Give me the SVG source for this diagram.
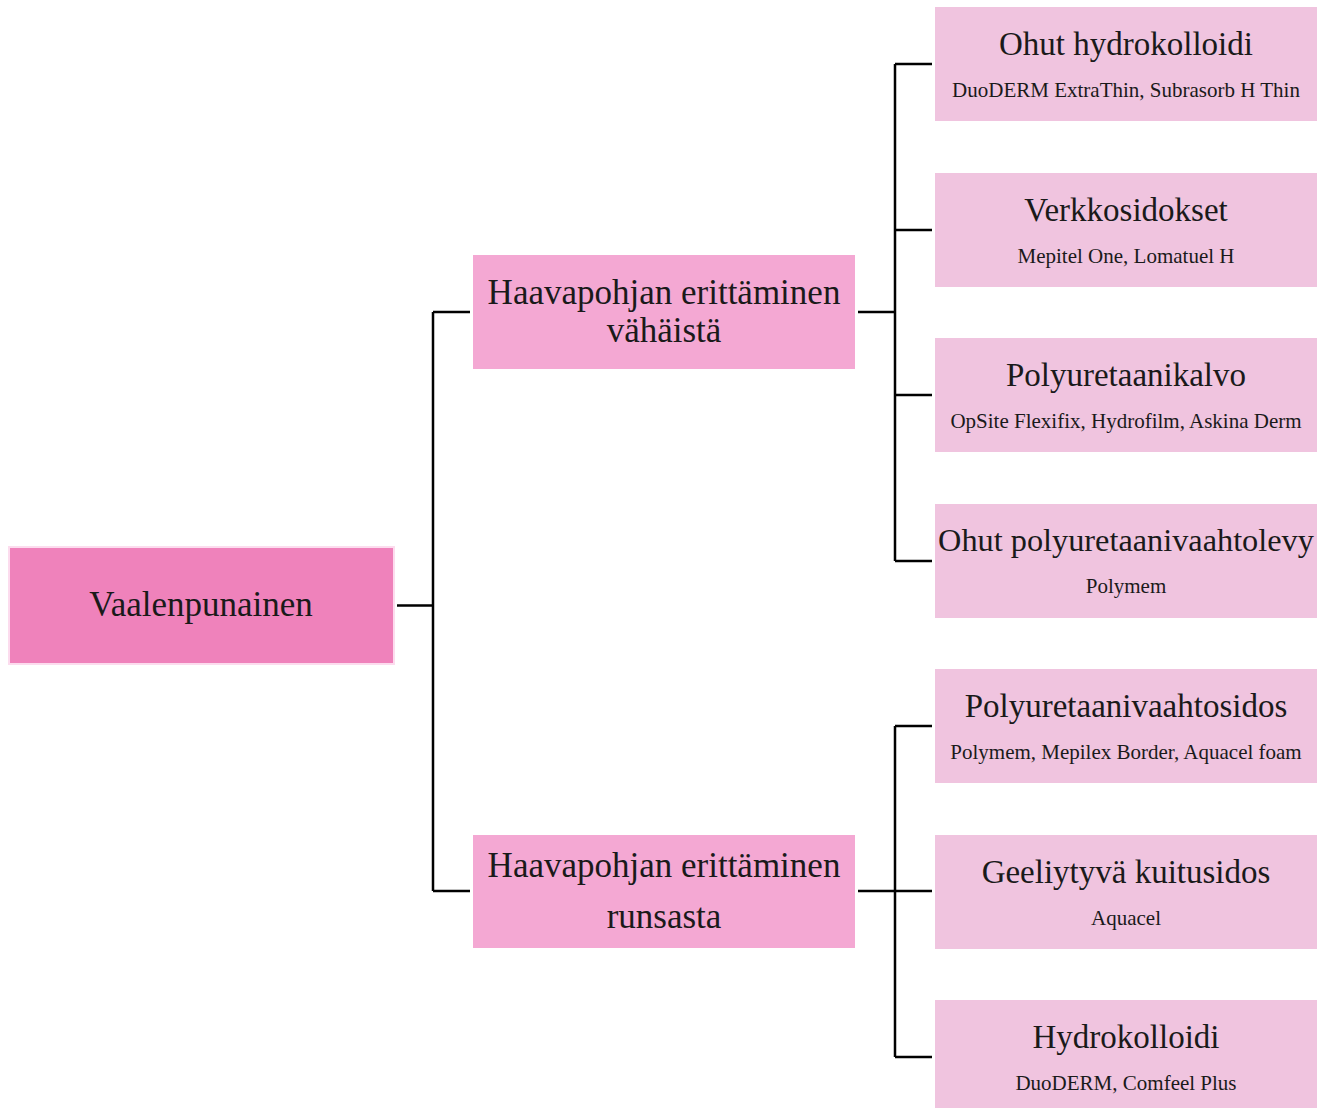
<svg xmlns="http://www.w3.org/2000/svg" width="1327" height="1109" viewBox="0 0 1327 1109">
<style>
.t{font-family:"Liberation Serif","DejaVu Serif",serif;fill:#1a1a1a;text-anchor:middle}
.big{font-size:33px}
.hub{font-size:35px}
.sub{font-size:21px}
.leaf{fill:#f0c4df}
.mid{fill:#f4a8d3}
.c{fill:none;stroke:#000;stroke-width:2.5}
</style>
<rect width="1327" height="1109" fill="#fff"/>
<g id="connectors">
<path class="c" d="M397 605.5H433M433 312V891M433 312H470M433 891H470"/>
<path class="c" d="M858 312H895M895 64V561M895 64H932M895 230H932M895 395H932M895 561H932"/>
<path class="c" d="M858 891H932M895 726V1057M895 726H932M895 1057H932"/>
</g>
<g id="root">
<rect x="9" y="547" width="385" height="117" fill="#ef82bb" stroke="#fcdcee" stroke-width="2"/>
<text class="t hub" x="201" y="616">Vaalenpunainen</text>
</g>
<g id="mid1">
<rect class="mid" x="473" y="255" width="382" height="114"/>
<text class="t hub" x="664" y="304">Haavapohjan erittäminen</text>
<text class="t hub" x="664" y="342">vähäistä</text>
</g>
<g id="mid2">
<rect class="mid" x="473" y="835" width="382" height="113"/>
<text class="t hub" x="664" y="877">Haavapohjan erittäminen</text>
<text class="t hub" x="664" y="928">runsasta</text>
</g>
<g id="leaf1">
<rect class="leaf" x="935" y="7" width="382" height="114"/>
<text class="t big" x="1126" y="55">Ohut hydrokolloidi</text>
<text class="t sub" x="1126" y="97">DuoDERM ExtraThin, Subrasorb H Thin</text>
</g>
<g id="leaf2">
<rect class="leaf" x="935" y="173" width="382" height="114"/>
<text class="t big" x="1126" y="221">Verkkosidokset</text>
<text class="t sub" x="1126" y="263">Mepitel One, Lomatuel H</text>
</g>
<g id="leaf3">
<rect class="leaf" x="935" y="338" width="382" height="114"/>
<text class="t big" x="1126" y="386">Polyuretaanikalvo</text>
<text class="t sub" x="1126" y="428">OpSite Flexifix, Hydrofilm, Askina Derm</text>
</g>
<g id="leaf4">
<rect class="leaf" x="935" y="504" width="382" height="114"/>
<text class="t big" x="1126" y="551" style="font-size:32.3px">Ohut polyuretaanivaahtolevy</text>
<text class="t sub" x="1126" y="593">Polymem</text>
</g>
<g id="leaf5">
<rect class="leaf" x="935" y="669" width="382" height="114"/>
<text class="t big" x="1126" y="717">Polyuretaanivaahtosidos</text>
<text class="t sub" x="1126" y="759">Polymem, Mepilex Border, Aquacel foam</text>
</g>
<g id="leaf6">
<rect class="leaf" x="935" y="835" width="382" height="114"/>
<text class="t big" x="1126" y="883">Geeliytyvä kuitusidos</text>
<text class="t sub" x="1126" y="925">Aquacel</text>
</g>
<g id="leaf7">
<rect class="leaf" x="935" y="1000" width="382" height="108"/>
<text class="t big" x="1126" y="1048">Hydrokolloidi</text>
<text class="t sub" x="1126" y="1090">DuoDERM, Comfeel Plus</text>
</g>
</svg>
